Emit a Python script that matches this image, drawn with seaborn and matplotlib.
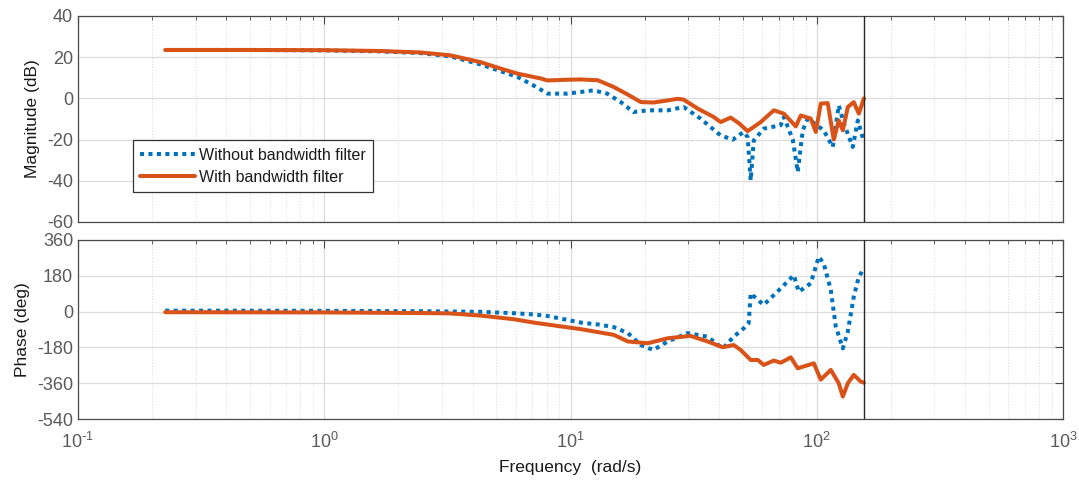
import numpy as np
import pandas as pd
import matplotlib
matplotlib.use("Agg")
import matplotlib.pyplot as plt
import seaborn as sns
from matplotlib.ticker import LogLocator, FixedLocator, NullFormatter, FuncFormatter

# ---------------- data ----------------
mag_nofilt_f = [0.226, 0.5, 1.0, 1.69, 2.45, 3.25, 4.31, 6.1, 7.07, 8.07, 9.72, 12.4, 14.1,
                16.0, 18.0, 20.6, 24.8, 28.8, 33.8, 40.7, 45.6, 50.5, 52.4, 53.9, 55.5, 60.9,
                71.4, 73.5, 79.9, 83.7, 87.7, 91.9, 106.7, 116.1, 122.8, 128.8, 140.0, 146.8, 155.3]
mag_nofilt = [23.5, 23.5, 23.3, 22.8, 22.0, 20.4, 16.5, 10.4, 6.3, 2.3, 2.3, 3.9, 2.3,
              -1.8, -6.6, -5.8, -5.8, -4.2, -9.9, -18.0, -20.0, -16.3, -18.8, -39.8, -20.4, -14.7,
              -13.0, -9.0, -20.0, -35.7, -15.5, -9.8, -15.5, -23.6, -3.4, -12.0, -23.6, -10.7, -21.0]

mag_filt_f = [0.226, 0.5, 1.0, 1.69, 2.45, 3.25, 4.31, 5.19, 6.1, 7.55, 8.07, 9.37, 11.0, 12.9,
              15.0, 17.0, 19.3, 21.7, 24.8, 27.2, 28.8, 32.8, 38.1, 40.7, 44.7, 48.2, 52.4, 59.2,
              66.9, 73.5, 82.2, 86.1, 94.5, 99.1, 103.8, 110.8, 117.2, 122.8, 127.6, 133.7,
              141.3, 148.2, 155.3]
mag_filt = [23.5, 23.5, 23.4, 23.0, 22.3, 20.9, 17.6, 14.5, 12.0, 9.7, 8.7, 9.0, 9.2, 8.8,
            5.5, 2.0, -1.8, -2.0, -1.0, -0.2, -0.6, -4.9, -9.0, -11.5, -9.3, -12.0, -15.9, -11.5,
            -5.8, -7.4, -13.6, -8.3, -9.8, -16.3, -2.5, -2.3, -20.0, -10.7, -15.5, -4.2,
            -1.8, -7.4, 0.0]

ph_nofilt_f = [0.226, 1.0, 2.45, 4.31, 5.87, 7.07, 8.07, 11.0, 13.0, 15.0, 17.1, 19.3, 21.7,
               24.8, 29.9, 36.0, 41.5, 46.0, 50.5, 52.9, 53.9, 57.6, 60.9, 71.4, 80.7, 84.5,
               94.5, 101.9, 106.7, 114.0, 119.4, 127.6, 133.7, 141.3, 148.2, 155.3]
ph_nofilt = [5, 4, 2, -1, -8, -14, -22, -55, -65, -78, -108, -168, -193,
             -150, -108, -126, -185, -126, -84, -58, 92, 59, 34, 117, 183, 100,
             142, 276, 242, 110, -74, -185, -100, 75, 175, 217]

ph_filt_f = [0.226, 1.0, 2.45, 3.25, 4.31, 5.87, 7.07, 8.07, 11.0, 15.0, 17.1, 20.6, 24.8,
             30.7, 36.0, 41.5, 46.0, 49.1, 53.9, 57.6, 60.9, 66.9, 71.4, 78.4, 83.7, 97.3,
             103.8, 114.0, 122.8, 127.6, 133.7, 141.3, 151.0, 155.3]
ph_filt = [-3, -4, -7, -9, -20, -38, -55, -65, -88, -117, -150, -159, -134,
           -122, -150, -179, -168, -193, -243, -243, -268, -246, -257, -230, -285, -260,
           -342, -293, -360, -427, -360, -318, -352, -357]

cursor_freq = 155.3
labels = ["Without bandwidth filter", "With bandwidth filter"]
mag_ticks = [-60, -40, -20, 0, 20, 40]
ph_ticks = [-540, -360, -180, 0, 180, 360]

# ---------------- style ----------------
sns.set_style("white")
plt.rcParams["font.family"] = ["Liberation Sans", "DejaVu Sans"]
plt.rcParams["mathtext.default"] = "regular"
plt.rcParams["axes.unicode_minus"] = False

BLUE = "#0072BD"
ORANGE = "#D95319"
TICKC = "#5a5a5a"
AXC = "#4a4a4a"

fig = plt.figure(figsize=(10.79, 4.80), dpi=100)
ax1 = fig.add_axes([0.0723, 0.5375, 0.9129, 0.4292])
ax2 = fig.add_axes([0.0723, 0.127, 0.9129, 0.373], sharex=ax1)

dot_style = (0, (1.0, 1.1))
LW = 2.9

df_m1 = pd.DataFrame({"f": mag_nofilt_f, "v": mag_nofilt})
df_m2 = pd.DataFrame({"f": mag_filt_f, "v": mag_filt})
df_p1 = pd.DataFrame({"f": ph_nofilt_f, "v": ph_nofilt})
df_p2 = pd.DataFrame({"f": ph_filt_f, "v": ph_filt})

sns.lineplot(data=df_m1, x="f", y="v", ax=ax1, color=BLUE, lw=LW, linestyle=dot_style,
             estimator=None, sort=False, label=labels[0])
sns.lineplot(data=df_m2, x="f", y="v", ax=ax1, color=ORANGE, lw=LW,
             estimator=None, sort=False, label=labels[1])
sns.lineplot(data=df_p1, x="f", y="v", ax=ax2, color=BLUE, lw=LW, linestyle=dot_style,
             estimator=None, sort=False, legend=False)
sns.lineplot(data=df_p2, x="f", y="v", ax=ax2, color=ORANGE, lw=LW,
             estimator=None, sort=False, legend=False)


def pow_fmt(v, pos):
    e = int(round(np.log10(v)))
    if e < 0:
        return r"$10^{\text{-}%d}$" % (-e)
    return r"$10^{%d}$" % e


for ax, ticks in ((ax1, mag_ticks), (ax2, ph_ticks)):
    ax.set_xscale("log")
    ax.set_xlim(0.1, 1000)
    ax.set_ylim(ticks[0], ticks[-1])
    ax.yaxis.set_major_locator(FixedLocator(ticks))
    ax.xaxis.set_major_locator(LogLocator(base=10, numticks=10))
    ax.xaxis.set_major_formatter(FuncFormatter(pow_fmt))
    ax.xaxis.set_minor_locator(LogLocator(base=10, subs=np.arange(2, 10), numticks=100))
    ax.xaxis.set_minor_formatter(NullFormatter())
    ax.grid(True, which="major", color="#dcdcdc", lw=0.9, ls="-")
    ax.grid(True, which="minor", axis="x", color="#d8d8d8", lw=0.7, ls=(0, (1, 2)))
    ax.set_axisbelow(True)
    ax.tick_params(which="both", direction="in", top=True, right=True, colors=AXC,
                   labelcolor=TICKC, labelsize=13)
    ax.tick_params(which="major", length=6, width=0.8)
    ax.tick_params(which="minor", length=3, width=0.6)
    ax.tick_params(axis="x", pad=9)
    for s in ax.spines.values():
        s.set_color(AXC)
        s.set_linewidth(0.9)
    ax.axvline(cursor_freq, color="#262626", lw=1.0, zorder=5)
    ax.set_xlabel("")

ax1.tick_params(labelbottom=False)
ax1.set_ylabel("Magnitude (dB)", fontsize=12.5, color="#1a1a1a", labelpad=5)
ax2.set_ylabel("Phase (deg)", fontsize=12.5, color="#1a1a1a", labelpad=5)
ax2.set_xlabel("Frequency  (rad/s)", fontsize=12.5, color="#1a1a1a", labelpad=6)

leg = ax1.legend(loc="lower left", bbox_to_anchor=(0.056, 0.146), fontsize=11.5,
                 frameon=True, fancybox=False, framealpha=1, edgecolor="#333333",
                 handlelength=3.4, borderpad=0.45, labelspacing=0.45, handletextpad=0.3,
                 borderaxespad=0)
leg.get_frame().set_linewidth(0.9)
for t in leg.get_texts():
    t.set_color("#1a1a1a")

fig.savefig("out.png", dpi=100)
